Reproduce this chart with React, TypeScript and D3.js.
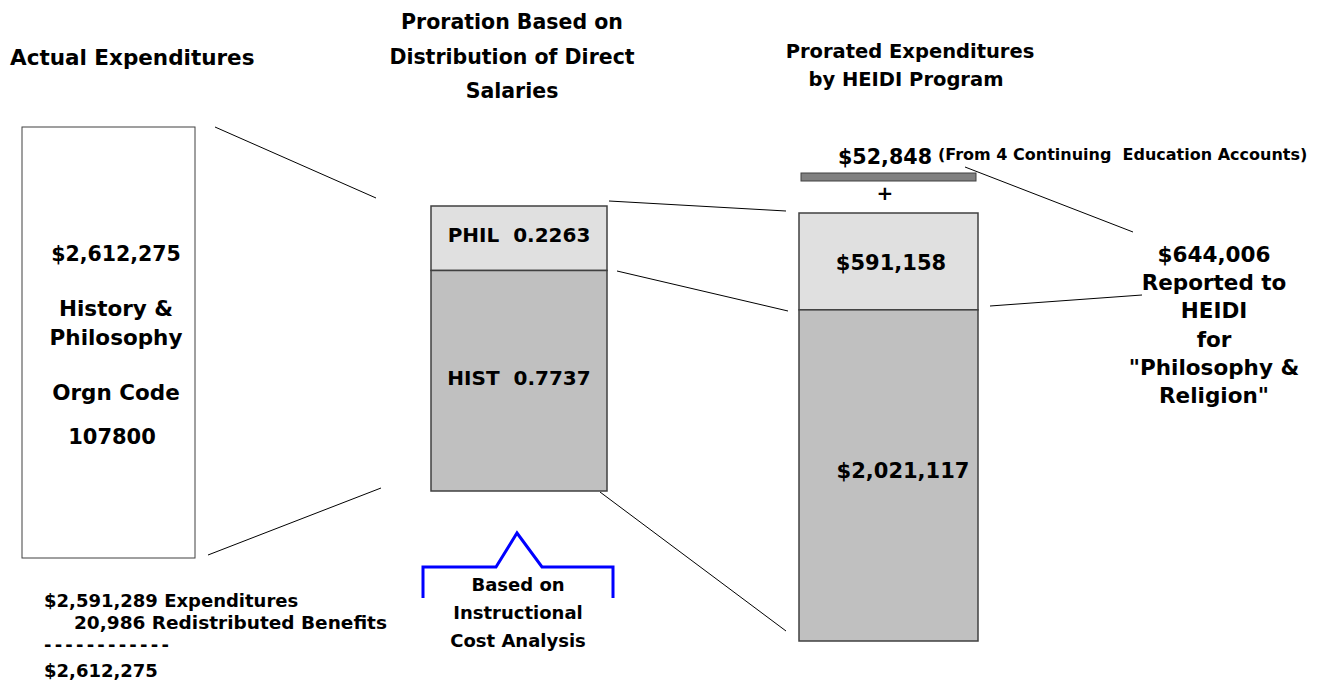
import React from "react";
import * as d3 from "d3";

const sourceTotal = 2612275;
const expenditures = 2591289;
const redistributed = 20986;
const shareLabels = ["PHIL", "HIST"];
const shares = [0.2263, 0.7737];
const proratedAmounts = [591158, 2021117];
const continuingEd = 52848;
const reportedTotal = 644006;

const FONT = "'DejaVu Sans', Verdana, sans-serif";
const fmt = d3.format("$,");
const fmtNo = d3.format(",");

export default function App() {
  const W = 1324, H = 681;
  const midY = d3.scaleLinear().domain([0, 1]).range([206, 491]);
  const rightY = d3.scaleLinear().domain([0, sourceTotal]).range([213, 641]);
  const midX = [431, 607];
  const rightX = [799, 978];
  const colors = ["#e0e0e0", "#c0c0c0"];
  const stroke = "#404040";

  const midCum = d3.cumsum([0, ...shares]);
  const rightCum = d3.cumsum([0, ...proratedAmounts]);

  const T = (props: any) => (
    <text fontFamily={FONT} fontWeight="bold" fill="#000" {...props} />
  );

  return (
    <svg width={W} height={H} style={{ position: "absolute", left: 0, top: 0, background: "#fff" }}>
      {/* Titles */}
      <T x={10} y={65} fontSize={21.5}>Actual Expenditures</T>
      <T x={512} y={29} fontSize={20.5} textAnchor="middle">Proration Based on</T>
      <T x={512} y={64} fontSize={20.5} textAnchor="middle">Distribution of Direct</T>
      <T x={512} y={98} fontSize={20.5} textAnchor="middle">Salaries</T>
      <T x={910} y={58} fontSize={19.5} textAnchor="middle">Prorated Expenditures</T>
      <T x={906} y={86} fontSize={19.5} textAnchor="middle">by HEIDI Program</T>

      {/* Left box */}
      <rect x={22} y={127} width={173} height={431} fill="#fff" stroke={stroke} strokeWidth={1} />
      <T x={116} y={261} fontSize={20.5} textAnchor="middle">{fmt(sourceTotal)}</T>
      <T x={116} y={316} fontSize={21.5} textAnchor="middle">History &amp;</T>
      <T x={116} y={345} fontSize={21.5} textAnchor="middle">Philosophy</T>
      <T x={116} y={400} fontSize={21.5} textAnchor="middle">Orgn Code</T>
      <T x={112} y={444} fontSize={21} textAnchor="middle">107800</T>

      {/* connectors */}
      <g stroke="#000" strokeWidth={1}>
        <line x1={215} y1={127} x2={376} y2={198} />
        <line x1={208} y1={555} x2={381} y2={488} />
        <line x1={609} y1={201} x2={786} y2={211} />
        <line x1={617} y1={271} x2={788} y2={311} />
        <line x1={600} y1={492} x2={786} y2={631} />
        <line x1={965} y1={167} x2={1133} y2={232} />
        <line x1={990} y1={306} x2={1142} y2={295} />
      </g>

      {/* Middle box */}
      {shares.map((s, i) => (
        <rect key={i} x={midX[0]} y={midY(midCum[i])} width={midX[1] - midX[0]}
          height={midY(midCum[i + 1]) - midY(midCum[i])} fill={colors[i]} stroke={stroke} strokeWidth={1.5} />
      ))}
      <T x={519} y={242} fontSize={20} textAnchor="middle" xmlSpace="preserve">{`${shareLabels[0]}  ${shares[0].toFixed(4)}`}</T>
      <T x={519} y={385} fontSize={20} textAnchor="middle" xmlSpace="preserve">{`${shareLabels[1]}  ${shares[1].toFixed(4)}`}</T>

      {/* Right box */}
      {proratedAmounts.map((a, i) => (
        <rect key={i} x={rightX[0]} y={rightY(rightCum[i])} width={rightX[1] - rightX[0]}
          height={rightY(rightCum[i + 1]) - rightY(rightCum[i])} fill={colors[i]} stroke={stroke} strokeWidth={1.5} />
      ))}
      <T x={891} y={270} fontSize={21} textAnchor="middle">{fmt(proratedAmounts[0])}</T>
      <T x={903} y={478} fontSize={21} textAnchor="middle">{fmt(proratedAmounts[1])}</T>

      {/* continuing ed bar */}
      <rect x={801} y={173} width={175} height={8} fill="#808080" stroke="#404040" strokeWidth={1} />
      <T x={885} y={200} fontSize={20} textAnchor="middle">+</T>
      <T x={838} y={164} fontSize={21} textLength={94} lengthAdjust="spacingAndGlyphs">{fmt(continuingEd)}</T>
      <T x={938} y={160} fontSize={16} xmlSpace="preserve">(From 4 Continuing  Education Accounts)</T>

      {/* reported text */}
      {[fmt(reportedTotal), "Reported to", "HEIDI", "for", "\"Philosophy &", "Religion\""].map((t, i) => (
        <T key={i} x={1214} y={262 + i * 28.2} fontSize={21.5} textAnchor="middle">{t}</T>
      ))}

      {/* brace */}
      <polyline points="423,598 423,567 496,567 517,533 542,567 613,567 613,598"
        fill="none" stroke="#0000ff" strokeWidth={3} strokeLinejoin="miter" />
      <T x={518} y={591} fontSize={18} textAnchor="middle">Based on</T>
      <T x={518} y={619} fontSize={18} textAnchor="middle">Instructional</T>
      <T x={518} y={647} fontSize={18} textAnchor="middle">Cost Analysis</T>

      {/* bottom-left arithmetic */}
      <T x={44} y={607} fontSize={18}>{`${fmt(expenditures)} Expenditures`}</T>
      <T x={74} y={629} fontSize={18.5}>{`${fmtNo(redistributed)} Redistributed Benefits`}</T>
      <T x={44} y={651} fontSize={18} letterSpacing={3.2}>------------</T>
      <T x={44} y={677} fontSize={18}>{fmt(sourceTotal)}</T>
    </svg>
  );
}
